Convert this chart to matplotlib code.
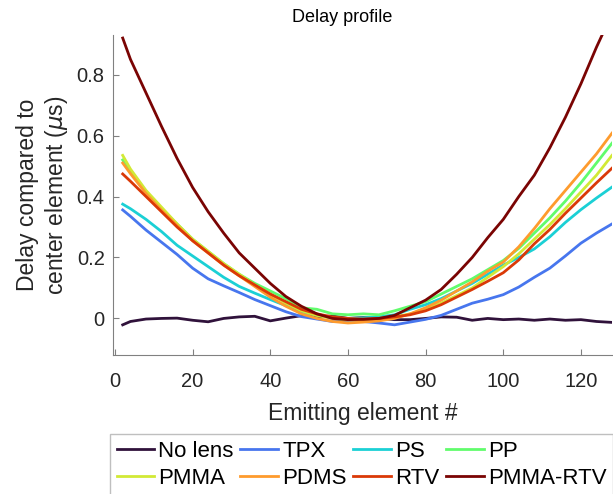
import numpy as np
import matplotlib
matplotlib.use("Agg")
import matplotlib.pyplot as plt

plt.rcParams['font.family'] = ['Liberation Sans', 'DejaVu Sans']

# emitting element index
elements = [2, 4, 8, 12, 16, 20, 24, 28, 32, 36, 40, 44, 48, 52, 56, 60, 64,
            68, 72, 76, 80, 84, 88, 92, 96, 100, 104, 108, 112, 116, 120, 124, 128]

no_lens = [-0.021, -0.010, -0.002, 0.000, 0.001, -0.006, -0.011, 0.000, 0.005, 0.007, -0.008,
           0.001, 0.009, 0.005, 0.008, 0.000, 0.003, 0.000, -0.004, -0.004, 0.000, 0.005,
           0.004, -0.006, 0.000, -0.004, -0.002, -0.006, -0.002, -0.006, -0.004, -0.010, -0.013]
tpx = [0.356, 0.335, 0.290, 0.250, 0.210, 0.165, 0.130, 0.107, 0.085, 0.062, 0.042,
       0.022, 0.006, -0.002, -0.010, -0.010, -0.010, -0.015, -0.021, -0.012, -0.003, 0.010,
       0.030, 0.050, 0.063, 0.078, 0.103, 0.135, 0.165, 0.205, 0.247, 0.280, 0.310]
ps = [0.375, 0.360, 0.325, 0.285, 0.240, 0.205, 0.170, 0.135, 0.105, 0.083, 0.062,
      0.042, 0.022, 0.010, 0.002, 0.000, 0.002, 0.005, 0.012, 0.030, 0.045, 0.065,
      0.090, 0.115, 0.145, 0.175, 0.200, 0.228, 0.268, 0.315, 0.357, 0.395, 0.431]
pp = [0.520, 0.480, 0.415, 0.360, 0.310, 0.260, 0.220, 0.180, 0.145, 0.115, 0.090,
      0.065, 0.035, 0.030, 0.015, 0.012, 0.015, 0.012, 0.025, 0.040, 0.055, 0.080,
      0.105, 0.130, 0.160, 0.190, 0.230, 0.280, 0.330, 0.385, 0.445, 0.510, 0.575]
pmma = [0.535, 0.490, 0.420, 0.365, 0.310, 0.260, 0.220, 0.180, 0.145, 0.110, 0.080,
        0.050, 0.025, 0.010, 0.000, -0.005, -0.005, 0.000, 0.005, 0.015, 0.030, 0.050,
        0.075, 0.100, 0.135, 0.170, 0.212, 0.260, 0.308, 0.360, 0.415, 0.470, 0.535]
pdms = [0.510, 0.475, 0.410, 0.355, 0.305, 0.255, 0.215, 0.175, 0.140, 0.105, 0.070,
        0.040, 0.015, 0.000, -0.010, -0.015, -0.012, -0.008, 0.000, 0.015, 0.035, 0.060,
        0.090, 0.120, 0.155, 0.185, 0.235, 0.295, 0.360, 0.420, 0.480, 0.540, 0.608]
rtv = [0.474, 0.450, 0.400, 0.350, 0.300, 0.255, 0.215, 0.175, 0.140, 0.110, 0.080,
       0.055, 0.030, 0.015, 0.005, 0.000, -0.002, 0.000, 0.005, 0.012, 0.025, 0.045,
       0.070, 0.095, 0.122, 0.150, 0.192, 0.245, 0.292, 0.345, 0.395, 0.445, 0.493]
pmma_rtv = [0.920, 0.850, 0.740, 0.630, 0.525, 0.430, 0.350, 0.280, 0.215, 0.165, 0.115,
            0.072, 0.040, 0.015, 0.000, -0.004, -0.003, 0.000, 0.010, 0.035, 0.060, 0.095,
            0.145, 0.200, 0.265, 0.325, 0.400, 0.470, 0.560, 0.660, 0.770, 0.890, 1.000]

names = ['No lens', 'TPX', 'PS', 'PP', 'PMMA', 'PDMS', 'RTV', 'PMMA-RTV']
series = [no_lens, tpx, ps, pp, pmma, pdms, rtv, pmma_rtv]
colors = plt.cm.turbo(np.linspace(0, 1, len(series)))

W, H = 613, 494
fig = plt.figure(figsize=(W / 100, H / 100), dpi=100)
ax = fig.add_axes([113 / W, (H - 355) / H, (612 - 113) / W, (355 - 35) / H])

lines = []
for name, y, c in zip(names, series, colors):
    ln, = ax.plot(elements, y, color=c, lw=2, label=name)
    lines.append(ln)

ax.set_xlim(-0.5, 128)
ax.set_ylim(-0.12, 0.93)
ax.set_xticks([0, 20, 40, 60, 80, 100, 120])
ax.set_yticks([0, 0.2, 0.4, 0.6, 0.8])
ax.set_yticklabels(['0', '0.2', '0.4', '0.6', '0.8'])

for s in ['top', 'right']:
    ax.spines[s].set_visible(False)
for s in ['left', 'bottom']:
    ax.spines[s].set_color('#808080')
ax.tick_params(direction='in', length=4, color='#808080', labelcolor='#262626',
               labelsize=14.5)
ax.tick_params(axis='x', pad=12)
ax.tick_params(axis='y', pad=6)

ax.set_xlabel('Emitting element #', fontsize=16.5, color='#262626', labelpad=8)
ax.set_ylabel('Delay compared to\ncenter element ($\\mu$s)', fontsize=16.5,
              color='#262626', labelpad=5)
fig.text(342.5 / W, 1 - 18 / H, 'Delay profile', fontsize=13, ha='center', va='center')

# legend filled row by row, matplotlib fills by column
order = [0, 4, 1, 5, 2, 6, 3, 7]
leg = fig.legend([lines[i] for i in order], [names[i] for i in order],
                 loc='upper left', bbox_to_anchor=(110 / W, 1 - 434.3 / H),
                 ncol=4, fontsize=16, handlelength=1.7, handletextpad=0.18,
                 columnspacing=0.3, labelspacing=0.28, borderpad=0.3,
                 fancybox=False, framealpha=1, borderaxespad=0)
leg.get_frame().set_edgecolor('#bfbfbf')
leg.get_frame().set_linewidth(1)

fig.savefig('out.png', dpi=100)
